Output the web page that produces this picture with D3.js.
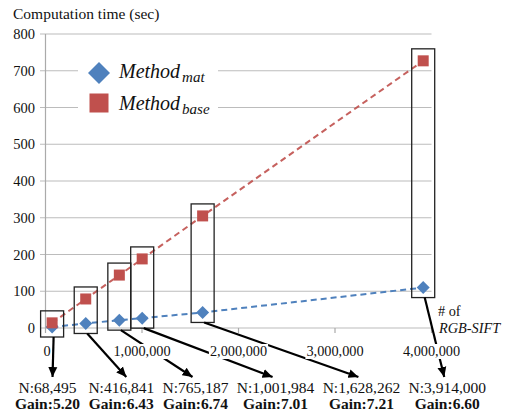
<!DOCTYPE html>
<html>
<head>
<meta charset="utf-8">
<script src="https://cdn.jsdelivr.net/npm/d3@7"></script>
<style>
  html, body { margin: 0; padding: 0; background: #fff; }
  svg { display: block; }
</style>
</head>
<body>
<svg id="chart" width="506" height="416"></svg>
<script>
// ---- data ----
const nValues   = [68495, 416841, 765187, 1001984, 1628262, 3914000];
const matTimes  = [2.7, 12.3, 21.4, 26.8, 42.3, 110];
const baseTimes = [14, 79, 144, 188, 305, 727];
const gains     = [5.20, 6.43, 6.74, 7.01, 7.21, 6.60];
const yTicks    = [0, 100, 200, 300, 400, 500, 600, 700, 800];
const xTicks    = [0, 1000000, 2000000, 3000000, 4000000];
const seriesNames = ["mat", "base"];

const svg = d3.select("#chart");

// ---- pick an installed serif font ----
function textWidth(fam) {
  const t = svg.append("text").attr("font-size", 40).attr("font-family", fam).text("Computation 0123 WMil");
  const w = t.node().getComputedTextLength();
  t.remove();
  return w;
}
const candidates = ["Liberation Serif", "Times New Roman", "Tinos", "DejaVu Serif", "Noto Serif", "FreeSerif", "Times"];
const baseMono = textWidth("monospace");
const baseSans = textWidth("sans-serif");
let serifFont = null;
for (const c of candidates) {
  const w1 = textWidth(`"${c}", monospace`);
  const w2 = textWidth(`"${c}", sans-serif`);
  if (Math.abs(w1 - baseMono) > 0.5 || Math.abs(w2 - baseSans) > 0.5) { serifFont = c; break; }
}
const FONT = serifFont ? `"${serifFont}", serif` : "serif";
const scaleF = serifFont ? 1 : 0.9;
svg.attr("font-family", FONT);

// ---- layout ----
const x = d3.scaleLinear().domain([0, 4000000]).range([45.5, 431.5]);
const y = d3.scaleLinear().domain([0, 800]).range([328, 34]);
const blue = "#4F81BD", red = "#C0504D";

svg.append("defs").append("marker")
  .attr("id", "ah").attr("markerUnits", "userSpaceOnUse")
  .attr("viewBox", "0 0 10 10").attr("refX", 10).attr("refY", 5)
  .attr("markerWidth", 10).attr("markerHeight", 10).attr("orient", "auto")
  .append("path").attr("d", "M0,0.5 L10,5 L0,9.5 Z").attr("fill", "#000");

// gridlines
svg.append("g").selectAll("line").data(yTicks).join("line")
  .attr("x1", 40).attr("x2", x(4000000))
  .attr("y1", d => y(d)).attr("y2", d => y(d))
  .attr("stroke", "#bcbcbc").attr("stroke-width", 1.2);

// y axis line
svg.append("line").attr("x1", x(0)).attr("x2", x(0)).attr("y1", y(800)).attr("y2", y(0) + 5)
  .attr("stroke", "#aaaaaa").attr("stroke-width", 1.2);

// x ticks
svg.append("g").selectAll("line").data(xTicks.slice(1)).join("line")
  .attr("x1", d => x(d)).attr("x2", d => x(d)).attr("y1", y(0)).attr("y2", y(0) + 5)
  .attr("stroke", "#aaaaaa").attr("stroke-width", 1.2);

// y tick labels
svg.append("g").selectAll("text").data(yTicks).join("text")
  .attr("x", 35).attr("y", d => y(d) + 5)
  .attr("text-anchor", "end").attr("font-size", 14.5 * scaleF).attr("fill", "#111")
  .text(d => d);

// title
svg.append("text").attr("x", 13).attr("y", 19).attr("font-size", 15.5 * scaleF).attr("fill", "#111")
  .text("Computation time (sec)");

// dashed lines
const lineGen = d3.line().x(d => x(d[0])).y(d => y(d[1]));
svg.append("path").datum(nValues.map((n, i) => [n, matTimes[i]]))
  .attr("d", lineGen).attr("fill", "none").attr("stroke", blue)
  .attr("stroke-width", 2).attr("stroke-dasharray", "6,4");
svg.append("path").datum(nValues.map((n, i) => [n, baseTimes[i]]))
  .attr("d", lineGen).attr("fill", "none").attr("stroke", red).attr("stroke-opacity", 0.9)
  .attr("stroke-width", 2).attr("stroke-dasharray", "6,4");

// markers
const diamond = (cx, cy, r) => `M${cx},${cy - r} L${cx + r},${cy} L${cx},${cy + r} L${cx - r},${cy} Z`;
svg.append("g").selectAll("path").data(nValues).join("path")
  .attr("d", (d, i) => diamond(x(d), y(matTimes[i]), 6.5)).attr("fill", blue);
svg.append("g").selectAll("rect").data(nValues).join("rect")
  .attr("x", d => x(d) - 5.5).attr("y", (d, i) => y(baseTimes[i]) - 5.5)
  .attr("width", 11).attr("height", 11).attr("fill", red);

// boxes
svg.append("g").selectAll("rect").data(nValues).join("rect")
  .attr("x", d => x(d) - 11.5).attr("y", (d, i) => y(baseTimes[i]) - 12)
  .attr("width", 23).attr("height", (d, i) => y(matTimes[i]) + 10 - (y(baseTimes[i]) - 12))
  .attr("fill", "none").attr("stroke", "#222").attr("stroke-width", 1.3);

// bottom labels, laid out left to right
const labelG = svg.append("g");
const labels = nValues.map((n, i) => {
  const g = labelG.append("g");
  const t1 = g.append("text").attr("font-size", 15.5 * scaleF).attr("text-anchor", "middle").attr("y", 393)
    .attr("fill", "#111").text("N:" + d3.format(",")(n));
  const t2 = g.append("text").attr("font-size", 15.5 * scaleF).attr("font-weight", "bold").attr("text-anchor", "middle")
    .attr("y", 409).attr("fill", "#111").text("Gain:" + gains[i].toFixed(2));
  const w = Math.max(t1.node().getComputedTextLength(), t2.node().getComputedTextLength());
  return { t1, t2, w };
});
const totalW = d3.sum(labels, l => l.w);
const gap = Math.min(13.5, (486 - 15 - totalW) / (labels.length - 1));
let cursor = 15;
labels.forEach(l => {
  l.cx = cursor + l.w / 2;
  l.t1.attr("x", l.cx); l.t2.attr("x", l.cx);
  cursor += l.w + gap;
});

// arrows
const arrowG = svg.insert("g", () => labelG.node());
nValues.forEach((n, i) => {
  arrowG.append("line")
    .attr("x1", x(n) + 1.5).attr("y1", y(matTimes[i]) + 10)
    .attr("x2", labels[i].cx + (i < 2 ? 5 : -3)).attr("y2", 377)
    .attr("stroke", "#000").attr("stroke-width", 2.2)
    .attr("marker-end", "url(#ah)");
});

// x tick labels with white background
const xtg = svg.insert("g", () => labelG.node());
xTicks.forEach(v => {
  const t = xtg.append("text").attr("x", x(v) + (v === 0 ? 1.5 : 0)).attr("y", 356)
    .attr("text-anchor", "middle").attr("font-size", 14.3 * scaleF).attr("fill", "#111")
    .text(d3.format(",")(v));
  const bb = t.node().getBBox();
  xtg.insert("rect", () => t.node())
    .attr("x", bb.x - 1).attr("y", bb.y + 1).attr("width", bb.width + 2).attr("height", bb.height - 1)
    .attr("fill", "#fff");
});

// axis title near x end
svg.append("text").attr("x", 438).attr("y", 316).attr("font-size", 14.3 * scaleF).attr("fill", "#111").text("# of");
svg.append("text").attr("x", 439).attr("y", 333).attr("font-size", 14.3 * scaleF).attr("font-style", "italic")
  .attr("fill", "#111").text("RGB-SIFT");

// legend
const leg = svg.append("g");
leg.append("rect").attr("x", 78).attr("y", 52).attr("width", 140).attr("height", 70).attr("fill", "#fff");
leg.append("path").attr("d", diamond(99, 73, 11)).attr("fill", blue);
leg.append("rect").attr("x", 89.5).attr("y", 93.5).attr("width", 19).attr("height", 19).attr("fill", red);
seriesNames.forEach((s, i) => {
  const t = leg.append("text").attr("x", 119).attr("y", 78 + i * 32)
    .attr("font-style", "italic").attr("fill", "#111");
  t.append("tspan").attr("font-size", 20 * scaleF).text("Method");
  t.append("tspan").attr("font-size", 15 * scaleF).attr("dx", 2).attr("dy", 4).text(s);
});
</script>
</body>
</html>
